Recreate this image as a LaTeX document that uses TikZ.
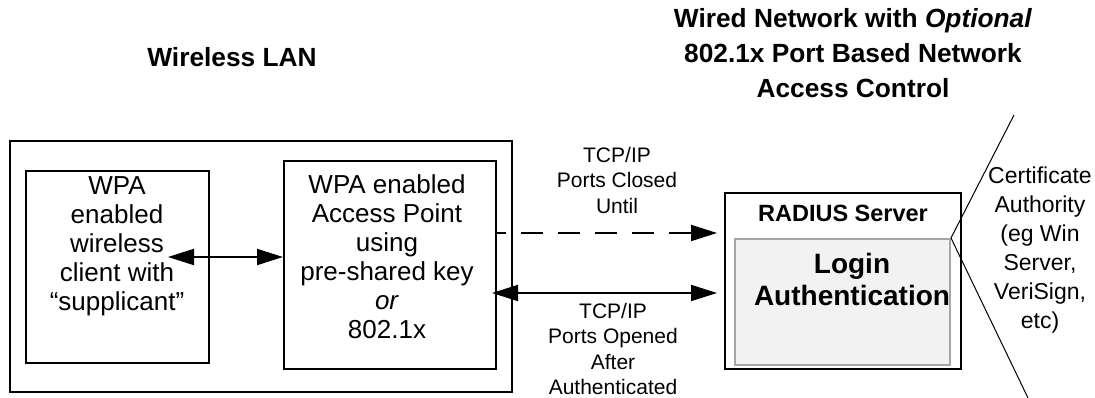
\documentclass[tikz,border=0pt]{standalone}
\usepackage{fontspec}
\setmainfont{Liberation Sans}
\usetikzlibrary{arrows.meta}

\definecolor{loginfill}{HTML}{F2F2F2}
\definecolor{loginline}{HTML}{A6A6A6}

\tikzset{
  box/.style={draw, line width=2pt, inner sep=0pt},
  arr/.style={line width=2pt, {Triangle[length=26pt,width=16pt]}-{Triangle[length=26pt,width=16pt]}},
  txt/.style={align=center, inner sep=0pt, font=\fontsize{26}{29}\selectfont},
  small/.style={align=center, inner sep=0pt, font=\fontsize{21}{25.5}\selectfont},
  heading/.style={align=center, inner sep=0pt, font=\fontsize{26.3}{35}\selectfont\bfseries}
}

\begin{document}
\begin{tikzpicture}[x=1pt, y=-1pt]
  \useasboundingbox (0,0) rectangle (1095,398);

  % titles
  \node[heading] (wltitle) at (232,57) {Wireless LAN};
  \node[heading] (wdtitle) at (853,53) {Wired Network with \textit{Optional}\\802.1x Port Based Network\\Access Control};

  % wireless side
  \node[box, minimum width=502pt, minimum height=251pt] (wlan) at (261,266.5) {};
  \node[box, minimum width=183pt, minimum height=192pt] (client) at (117.5,267) {};
  \node[txt] (clienttxt) at (117,246) {WPA\\enabled\\wireless\\client with\\``supplicant''};
  \node[box, minimum width=212pt, minimum height=208pt] (ap) at (390,265) {};
  \node[txt] (aptxt) at (387,257) {WPA enabled\\Access Point\\using\\pre-shared key\\\textit{or}\\802.1x};

  % wired side
  \node[box, minimum width=236pt, minimum height=176pt] (radius) at (843,281) {};
  \node[inner sep=0pt, font=\fontsize{23.5}{27}\selectfont\bfseries] (radiustxt) at (843,213) {RADIUS Server};
  \node[draw=loginline, fill=loginfill, line width=2pt, inner sep=0pt,
        minimum width=215pt, minimum height=126pt] (login) at (842.5,302) {};
  \node[align=center, inner sep=0pt, font=\fontsize{28}{32}\selectfont\bfseries] (logintxt) at (852,279) {Login\\Authentication};

  % certificate authority
  \coordinate (catop) at (1014,115);
  \coordinate (cabot) at (1028,398);
  \draw[line width=1pt] (catop) -- (login.north east) -- (cabot);
  \node[align=center, inner sep=0pt, font=\fontsize{23}{29}\selectfont] (catxt) at (1040,250) {Certificate\\Authority\\(eg Win\\Server,\\VeriSign,\\etc)};

  % connectors
  \coordinate (wl) at (168,257);
  \draw[arr] (wl) -- (ap.west |- wl);

  \coordinate (dsh) at (495,233);
  \draw[line width=2pt, dash pattern=on 22pt off 15pt, dash phase=11pt,
        -{Triangle[length=26pt,width=16pt]}, shorten >=7pt] (dsh) -- (dsh -| radius.west);
  \node[small] (closedtxt) at (617,180) {TCP/IP\\Ports Closed\\Until};

  \coordinate (sol) at (492,293);
  \draw[arr, shorten >=7pt] (sol) -- (sol -| radius.west);
  \node[small] (openedtxt) at (613,349) {TCP/IP\\Ports Opened\\After\\Authenticated};
\end{tikzpicture}
\end{document}
